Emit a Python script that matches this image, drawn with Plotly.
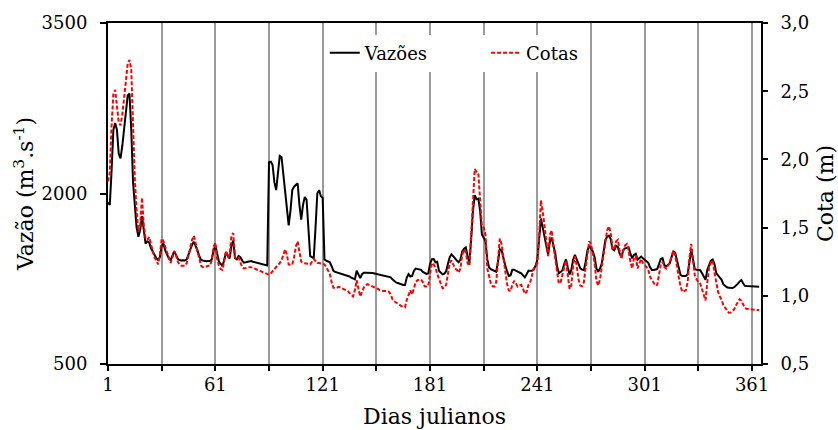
import plotly.graph_objects as go

# Daily discharge (m3/s) and stage (m), julian days 1..365
days = list(range(1, 366))

vazoes = [
    1920, 1900, 2200, 2560, 2620, 2560, 2350, 2310, 2420, 2580,
    2740, 2860, 2880, 2560, 2100, 1930, 1700, 1620, 1680, 1800,
    1650, 1560, 1580, 1570, 1520, 1490, 1460, 1430, 1415, 1440,
    1540, 1560, 1500, 1470, 1430, 1415, 1450, 1490, 1460, 1425,
    1415, 1410, 1412, 1410, 1420, 1470, 1510, 1550, 1575, 1540,
    1500, 1450, 1415, 1410, 1405, 1405, 1406, 1406, 1420, 1500,
    1545, 1460, 1400, 1380, 1360, 1420, 1485, 1450, 1430, 1540,
    1585, 1430, 1420, 1450, 1440, 1410, 1392, 1395, 1400, 1405,
    1406, 1400, 1395, 1392, 1390, 1385, 1380, 1375, 1370, 1366,
    2275, 2280, 2250, 2100, 2030, 2200, 2330, 2320, 2180, 2040,
    1900, 1720, 1850, 2030, 2060, 2080, 2090, 1900, 1770, 1900,
    1970, 1945, 1650, 1450, 1440, 1430, 1700, 2000, 2030, 1975,
    1960, 1420, 1410, 1405, 1395, 1360, 1320, 1310, 1305, 1300,
    1298, 1295, 1290, 1285, 1280, 1270, 1260, 1250, 1245, 1320,
    1280, 1255, 1290, 1303, 1303, 1303, 1303, 1302, 1300, 1296,
    1292, 1290, 1288, 1285, 1280, 1275, 1272, 1268, 1262, 1245,
    1230, 1218, 1212, 1205, 1200, 1196, 1195, 1260, 1290, 1270,
    1275, 1320, 1340, 1335, 1332, 1328, 1310, 1298, 1292, 1296,
    1380, 1420, 1425, 1395, 1400, 1320, 1300, 1288, 1295, 1315,
    1380, 1440, 1465, 1450, 1430, 1410, 1395, 1420, 1490, 1515,
    1525, 1450, 1390, 1600, 1850, 1985, 1950, 1955, 1850, 1640,
    1615, 1580, 1420, 1350, 1335, 1325, 1318, 1312, 1400, 1510,
    1500, 1430, 1370, 1320, 1275, 1280, 1330, 1330, 1318, 1312,
    1305, 1298, 1280, 1262, 1290, 1320, 1320, 1320, 1330, 1365,
    1420, 1620, 1780, 1700, 1610, 1520, 1460, 1580, 1610, 1540,
    1475, 1360, 1300, 1310, 1325, 1380, 1420, 1350, 1288, 1330,
    1420, 1460, 1420, 1370, 1342, 1330, 1326, 1400, 1500, 1540,
    1520, 1490, 1440, 1340, 1312, 1340, 1385, 1500, 1590, 1620,
    1630, 1600, 1510, 1500, 1540, 1530, 1470, 1440, 1500, 1518,
    1522, 1525, 1470, 1430, 1460, 1470, 1418, 1430, 1445, 1430,
    1415, 1408, 1390, 1350, 1328, 1328, 1330, 1335, 1380, 1425,
    1430, 1370, 1358, 1375, 1386, 1440, 1490, 1480, 1420, 1360,
    1285, 1274, 1274, 1274, 1290, 1420, 1500, 1420, 1335, 1330,
    1328, 1326, 1300, 1270, 1240, 1330, 1380, 1410, 1420, 1380,
    1300, 1280, 1262, 1240, 1200, 1186, 1175, 1170, 1166, 1168,
    1175, 1186, 1205, 1225, 1238, 1210, 1188, 1186, 1185, 1186,
    1186, 1183, 1181, 1181, 1180,
]

cotas = [
    1.84, 1.90, 2.25, 2.48, 2.51, 2.38, 2.27, 2.25, 2.33, 2.45,
    2.58, 2.70, 2.73, 2.66, 2.25, 1.85, 1.62, 1.47, 1.52, 1.72,
    1.52, 1.42, 1.41, 1.43, 1.38, 1.32, 1.28, 1.26, 1.23, 1.30,
    1.42, 1.40, 1.36, 1.33, 1.28, 1.24, 1.28, 1.33, 1.30, 1.25,
    1.23, 1.22, 1.22, 1.22, 1.24, 1.30, 1.35, 1.41, 1.44, 1.38,
    1.32, 1.26, 1.22, 1.21, 1.21, 1.215, 1.22, 1.22, 1.26, 1.36,
    1.39, 1.27, 1.22, 1.195, 1.19, 1.27, 1.33, 1.28, 1.30, 1.44,
    1.46, 1.28, 1.27, 1.28, 1.25, 1.21, 1.20, 1.205, 1.21, 1.21,
    1.21, 1.205, 1.20, 1.19, 1.19, 1.185, 1.18, 1.17, 1.165, 1.16,
    1.155, 1.165, 1.18, 1.19, 1.205, 1.22, 1.24, 1.26, 1.30, 1.34,
    1.30, 1.23, 1.225, 1.23, 1.28, 1.36, 1.40, 1.33, 1.25, 1.24,
    1.24, 1.24, 1.235, 1.23, 1.25, 1.27, 1.255, 1.24, 1.24, 1.235,
    1.23, 1.23, 1.21, 1.185, 1.16, 1.10, 1.06, 1.055, 1.06, 1.065,
    1.06, 1.055, 1.05, 1.045, 1.035, 1.02, 1.005, 0.995, 1.04, 1.115,
    1.05, 0.995, 1.03, 1.06, 1.075, 1.085, 1.08, 1.075, 1.07, 1.065,
    1.06, 1.05, 1.04, 1.035, 1.035, 1.035, 1.03, 1.03, 1.01, 0.975,
    0.96, 0.95, 0.94, 0.935, 0.925, 0.918, 0.916, 0.97, 1.01, 1.04,
    1.01, 1.05, 1.10, 1.115, 1.12, 1.12, 1.10, 1.07, 1.068, 1.07,
    1.16, 1.24, 1.23, 1.21, 1.16, 1.12, 1.08, 1.055, 1.06, 1.08,
    1.16, 1.24, 1.26, 1.23, 1.20, 1.19, 1.17, 1.20, 1.30, 1.34,
    1.32, 1.24, 1.22, 1.45, 1.75, 1.93, 1.91, 1.90, 1.70, 1.51,
    1.50, 1.45, 1.20, 1.13, 1.09, 1.07, 1.067, 1.10, 1.28, 1.42,
    1.38, 1.27, 1.17, 1.09, 1.04, 1.035, 1.08, 1.11, 1.09, 1.067,
    1.075, 1.08, 1.05, 1.015, 1.03, 1.08, 1.10, 1.15, 1.20, 1.22,
    1.24, 1.45, 1.70, 1.62, 1.52, 1.38, 1.29, 1.45, 1.48, 1.36,
    1.26, 1.15, 1.09, 1.10, 1.16, 1.22, 1.26, 1.15, 1.05, 1.08,
    1.22, 1.29, 1.22, 1.12, 1.075, 1.07, 1.10, 1.21, 1.30, 1.40,
    1.38, 1.30, 1.24, 1.11, 1.075, 1.12, 1.21, 1.32, 1.42, 1.48,
    1.51, 1.46, 1.35, 1.34, 1.40, 1.41, 1.33, 1.27, 1.33, 1.37,
    1.38, 1.33, 1.25, 1.20, 1.28, 1.29, 1.20, 1.24, 1.27, 1.24,
    1.22, 1.21, 1.19, 1.14, 1.116, 1.09, 1.075, 1.08, 1.15, 1.23,
    1.25, 1.21, 1.20, 1.22, 1.24, 1.29, 1.33, 1.30, 1.20, 1.14,
    1.07, 1.03, 1.035, 1.04, 1.10, 1.28, 1.38, 1.25, 1.15, 1.12,
    1.10, 1.09, 1.05, 1.00, 0.966, 1.10, 1.21, 1.24, 1.26, 1.17,
    1.09, 1.03, 0.995, 0.97, 0.93, 0.91, 0.89, 0.876, 0.878, 0.89,
    0.90, 0.93, 0.955, 0.975, 0.965, 0.93, 0.91, 0.905, 0.90, 0.90,
    0.90, 0.898, 0.897, 0.896, 0.895,
]

# Axis ticks and labels
x_label_ticks = list(range(1, 366, 60))
x_labels = [str(d) for d in x_label_ticks]
x_month_ticks = list(range(1, 366, 30))
vazao_ticks = [500, 2000, 3500]
vazao_labels = ["500", "2000", "3500"]
cota_ticks = [0.5, 1.0, 1.5, 2.0, 2.5, 3.0]
cota_labels = ["0,5", "1,0", "1,5", "2,0", "2,5", "3,0"]

FONT = "DejaVu Serif"
SIZE = 18
GRID = "#9a9a9a"

fig = go.Figure()
fig.add_trace(go.Scatter(
    x=days, y=vazoes, name="Vazões", mode="lines",
    line=dict(color="black", width=2), yaxis="y", legend="legend",
))
fig.add_trace(go.Scatter(
    x=days, y=cotas, name="Cotas", mode="lines",
    line=dict(color="#ff0000", width=2, dash="4px,2px"), yaxis="y2",
    legend="legend2",
))

legend_style = dict(
    orientation="h", xanchor="left", y=0.912, yanchor="middle",
    bgcolor="white", borderwidth=0, font=dict(family=FONT, size=SIZE),
)

fig.update_layout(
    width=838, height=430,
    margin=dict(l=108, r=77, t=23, b=66, autoexpand=False),
    paper_bgcolor="white", plot_bgcolor="white",
    font=dict(family=FONT, size=SIZE, color="black"),
    showlegend=True,
    legend=dict(legend_style, x=0.332, entrywidth=118, entrywidthmode="pixels"),
    legend2=dict(legend_style, x=0.579),
    xaxis=dict(
        range=[1, 366], tickmode="array",
        tickvals=x_label_ticks, ticktext=x_labels,
        showgrid=True, gridcolor=GRID, gridwidth=2,
        minor=dict(tickmode="array", tickvals=x_month_ticks,
                   ticks="outside", ticklen=5, tickwidth=2, tickcolor="black",
                   showgrid=True, gridcolor=GRID, gridwidth=2),
        showline=True, linecolor="black", linewidth=2, mirror=True,
        ticks="outside", ticklen=5, tickwidth=2, tickcolor="black",
        zeroline=False, automargin=False, ticklabelstandoff=-2,
        title=dict(text="Dias julianos", standoff=15),
    ),
    yaxis=dict(
        range=[500, 3500], tickvals=vazao_ticks, ticktext=vazao_labels,
        showgrid=False, zeroline=False, automargin=False,
        showline=True, linecolor="black", linewidth=2,
        ticks="outside", ticklen=6, tickwidth=2, tickcolor="black",
        ticklabelstandoff=9,
        title=dict(text="Vazão (m<sup>3</sup>.s<sup>-1</sup>)", standoff=2),
    ),
    yaxis2=dict(
        range=[0.5, 3.0], tickvals=cota_ticks, ticktext=cota_labels,
        overlaying="y", side="right",
        showgrid=False, zeroline=False, automargin=False,
        showline=True, linecolor="black", linewidth=2,
        ticks="outside", ticklen=5, tickwidth=2, tickcolor="black",
        ticklabelstandoff=9,
        title=dict(text="Cota (m)", standoff=16),
    ),
)

fig.write_html("out.html")
